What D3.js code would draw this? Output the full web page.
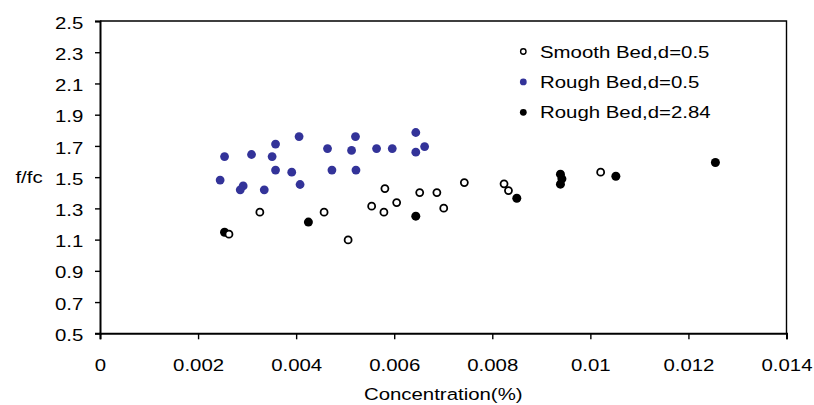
<!DOCTYPE html>
<html>
<head>
<meta charset="utf-8">
<script src="https://cdn.jsdelivr.net/npm/d3@7"></script>
<style>
  body { margin: 0; background: #fff; }
  svg { display: block; font-family: "Liberation Sans", Arial, sans-serif; }
</style>
</head>
<body>
<svg id="chart" width="814" height="405"></svg>
<script>
// data (x in %, y = f/fc)
const smoothX = [0.00263, 0.00326, 0.00457, 0.00506, 0.00554, 0.00579, 0.00581, 0.00605, 0.00652, 0.00687, 0.00701, 0.00743, 0.00824, 0.00833, 0.01021];
const smoothY = [1.135, 1.276, 1.276, 1.098, 1.314, 1.276, 1.427, 1.337, 1.401, 1.401, 1.301, 1.465, 1.457, 1.414, 1.532];

const rough05X = [0.00254, 0.00245, 0.00309, 0.00292, 0.00286, 0.00358, 0.00351, 0.00358, 0.00335, 0.00406, 0.00391, 0.00408,
                  0.00464, 0.00473, 0.00513, 0.00521, 0.00522, 0.00564, 0.00596, 0.00644, 0.00644, 0.00662];
const rough05Y = [1.632, 1.481, 1.645, 1.444, 1.419, 1.712, 1.632, 1.545, 1.419, 1.760, 1.532, 1.453,
                  1.683, 1.545, 1.671, 1.760, 1.545, 1.683, 1.683, 1.786, 1.660, 1.696];

const rough284X = [0.00254, 0.00425, 0.00644, 0.00850, 0.00939, 0.00942, 0.00939, 0.01052, 0.01255];
const rough284Y = [1.147, 1.212, 1.250, 1.365, 1.519, 1.489, 1.455, 1.506, 1.594];

const xTicks = [0, 0.002, 0.004, 0.006, 0.008, 0.01, 0.012, 0.014];
const yTicks = [0.5, 0.7, 0.9, 1.1, 1.3, 1.5, 1.7, 1.9, 2.1, 2.3, 2.5];
const legendLabels = ["Smooth Bed,d=0.5", "Rough Bed,d=0.5", "Rough Bed,d=2.84"];

const blue = "#333399";
const stretch = "scale(1.2,1)";
const fontSize = "17px";

const plotLeft = 100, plotRight = 786.5, plotTop = 21, plotBottom = 333.3;

const svg = d3.select("#chart");

const x = d3.scaleLinear().domain([0, 0.014]).range([plotLeft, plotRight]);
const y = d3.scaleLinear().domain([0.5, 2.5]).range([plotBottom, plotTop]);

// frame top + right
svg.append("path")
  .attr("d", `M${plotLeft},${plotTop}H${plotRight}V${plotBottom}`)
  .attr("fill", "none")
  .attr("stroke", "#000")
  .attr("stroke-width", 1.4);

// y axis
const gy = svg.append("g")
  .attr("transform", `translate(${plotLeft},0)`)
  .call(d3.axisLeft(y).tickValues(yTicks).tickSize(5).tickFormat(d3.format(".1f")));
gy.select(".domain").attr("stroke-width", 2);
gy.selectAll(".tick line").attr("stroke-width", 1.4);
gy.selectAll(".tick text")
  .attr("x", 0)
  .attr("dy", "0.42em")
  .attr("transform", `translate(-16.7,0) ${stretch}`)
  .style("font-size", fontSize)
  .style("font-family", "Liberation Sans, Arial, sans-serif")
  .attr("fill", "#000");

// x axis
const gx = svg.append("g")
  .attr("transform", `translate(0,${plotBottom})`)
  .call(d3.axisBottom(x).tickValues(xTicks).tickSize(6).tickFormat(d => d === 0 ? "0" : String(+d.toFixed(3))));
gx.select(".domain").attr("stroke-width", 2);
gx.selectAll(".tick line").attr("stroke-width", 1.4);
gx.selectAll(".tick text")
  .attr("y", 0)
  .attr("dy", "0.71em")
  .attr("transform", `translate(0,25.3) ${stretch}`)
  .style("font-size", fontSize)
  .style("font-family", "Liberation Sans, Arial, sans-serif")
  .attr("fill", "#000");

// axis titles
svg.append("text")
  .attr("transform", `translate(${(plotLeft + plotRight) / 2},400) ${stretch}`)
  .attr("text-anchor", "middle")
  .style("font-size", fontSize)
  .text("Concentration(%)");

svg.append("text")
  .attr("transform", `translate(29,182.8) ${stretch}`)
  .attr("text-anchor", "middle")
  .style("font-size", fontSize)
  .text("f/fc");

// points
const pts = (xs, ys) => xs.map((v, i) => ({ x: v, y: ys[i] }));

svg.append("g").selectAll("circle")
  .data(pts(rough284X, rough284Y))
  .enter().append("circle")
  .attr("cx", d => x(d.x))
  .attr("cy", d => y(d.y))
  .attr("r", 4.5)
  .attr("fill", "#000");

svg.append("g").selectAll("circle")
  .data(pts(rough05X, rough05Y))
  .enter().append("circle")
  .attr("cx", d => x(d.x))
  .attr("cy", d => y(d.y))
  .attr("r", 4.4)
  .attr("fill", blue);

svg.append("g").selectAll("circle")
  .data(pts(smoothX, smoothY))
  .enter().append("circle")
  .attr("cx", d => x(d.x))
  .attr("cy", d => y(d.y))
  .attr("r", 3.5)
  .attr("fill", "#fff")
  .attr("stroke", "#000")
  .attr("stroke-width", 1.8);

// legend
const legend = svg.append("g");
const rowY = i => 51.5 + i * 30.4;

legend.selectAll("circle")
  .data(legendLabels)
  .enter().append("circle")
  .attr("cx", 523.3)
  .attr("cy", (d, i) => rowY(i))
  .attr("r", (d, i) => i === 0 ? 2.7 : 3.4)
  .attr("fill", (d, i) => i === 0 ? "#fff" : (i === 1 ? blue : "#000"))
  .attr("stroke", (d, i) => i === 0 ? "#000" : "none")
  .attr("stroke-width", 1.4);

legend.selectAll("text")
  .data(legendLabels)
  .enter().append("text")
  .attr("transform", (d, i) => `translate(540,${rowY(i)}) ${stretch}`)
  .attr("dy", "0.36em")
  .style("font-size", fontSize)
  .text(d => d);
</script>
</body>
</html>
